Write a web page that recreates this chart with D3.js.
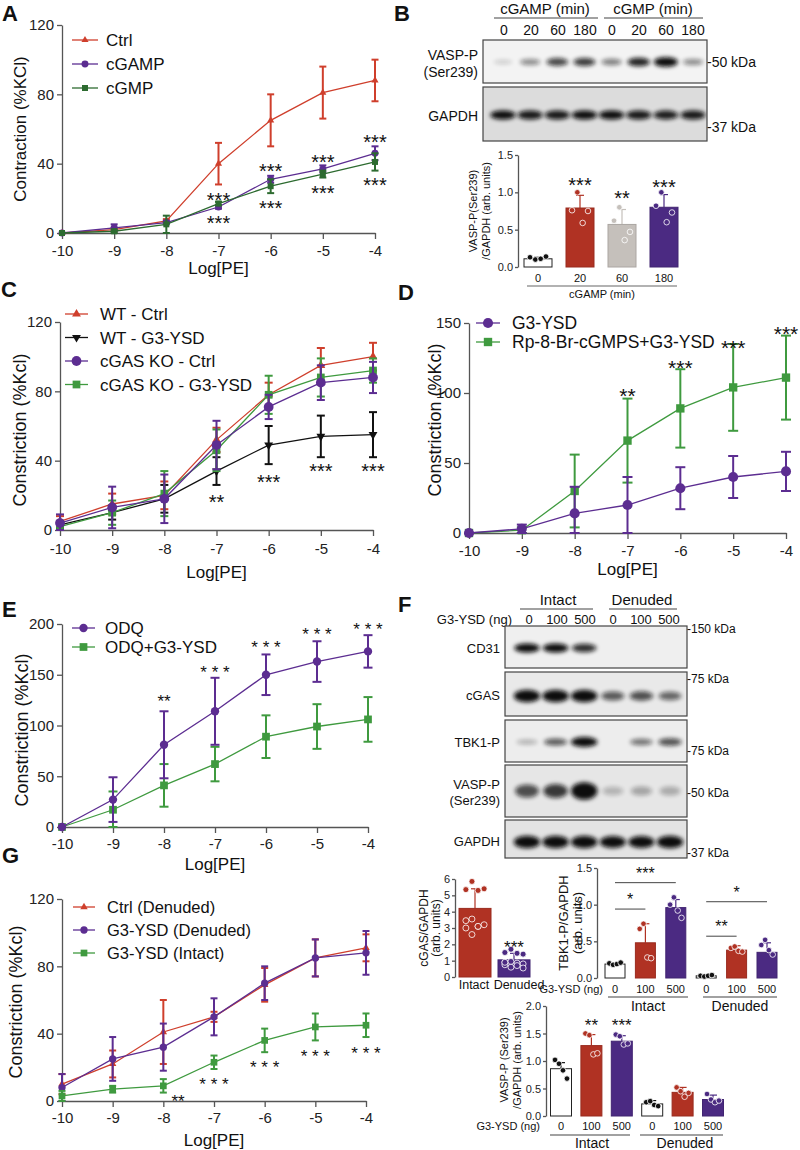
<!DOCTYPE html>
<html><head><meta charset="utf-8">
<script src="https://cdn.jsdelivr.net/npm/d3@7"></script>
<style>body{margin:0;background:#fff} svg{display:block} text{font-family:Arial,"Liberation Sans",Helvetica,sans-serif}</style>
</head><body><svg id="c" width="800" height="1150"></svg>
<script>
// ---------------- DATA ----------------
const logPE = [-10,-9,-8,-7,-6,-5,-4];
// Panel A
const aCtrl = [0,2,7,40,65,81,88];
const aCtrlErr = [0,1,1,12,15,15,12];
const aCGAMP = [0,3,6,15,31,37,46];
const aCGAMPErr = [0,2,1,1,2,2,4];
const aCGMP = [0,1,5,17,27,34,41];
const aCGMPErr = [0,1,5,1,4,2,5];
const aStars = [{x:-7,y:21.9,t:"***"},{x:-7,y:8.7,t:"***"},{x:-6,y:38.7,t:"***"},{x:-6,y:17.3,t:"***"},{x:-5,y:43.8,t:"***"},{x:-5,y:26,t:"***"},{x:-4,y:55.4,t:"***"},{x:-4,y:30.6,t:"***"}];
// Panel B
const bLaneLabels = ["0","20","60","180","0","20","60","180"];
const bVaspBands = [0.02,0.3,0.6,0.65,0.35,0.75,0.95,0.3];
const bGapdhBands = [0.85,0.8,0.8,0.85,0.85,0.8,0.78,0.8];
const bBarCats = ["0","20","60","180"];
const bBarVals = [0.11,0.79,0.57,0.80];
const bBarSD = [0.02,0.17,0.20,0.17];
const bBarDots = [[0.13,0.10,0.11,0.14],[0.76,1.0,0.59,0.75],[0.62,0.80,0.36,0.47],[0.82,1.0,0.60,0.73]];
const bBarStars = ["***","**","***"];
const bBarStarY = [1.165,0.99,1.14];
// Panel C
const cWTCtrl = [5,15,20,52,78,95,100];
const cWTCtrlErr = [3,6,8,7,7,10,8];
const cWTG3 = [3,10,18,34,49,54,55];
const cWTG3Err = [2,4,8,8,11,12,13];
const cKOCtrl = [4,13,18,49,71,85,88];
const cKOCtrlErr = [5,12,14,14,7,10,9];
const cKOG3 = [2,10,21,46,78,88,92];
const cKOG3Err = [2,7,13,12,11,11,7];
const cStars = [{x:-7,y:19,t:"**"},{x:-6,y:30.6,t:"***"},{x:-5,y:37,t:"***"},{x:-4,y:37,t:"***"}];
// Panel D
const dG3 = [0,3,14,20,32,40,44];
const dG3Err = [0,3,19,20,15,15,14];
const dRp = [0,2,30,66,89,104,111];
const dRpErr = [0,2,26,30,28,31,30];
const dStars = [{x:-7,y:102,t:"**"},{x:-6,y:122,t:"***"},{x:-5,y:136,t:"***"},{x:-4,y:146,t:"***"}];
// Panel E
const eODQ = [0,27,81,114,150,163,173];
const eODQErr = [0,22,33,33,20,20,16];
const eODQG3 = [0,17,41,62,89,99,106];
const eODQG3Err = [0,18,21,17,21,22,22];
const eStars = [{x:-8,y:128,t:"**"},{x:-7,y:157,t:"* * *"},{x:-6,y:181,t:"* * *"},{x:-5,y:194,t:"* * *"},{x:-4,y:199,t:"* * *"}];
// Panel F
const fLaneLabels = ["0","100","500","0","100","500"];
const fCD31 = [0.85,0.85,0.7,0,0,0];
const fCGAS = [1,1,1,0.5,0.55,0.45];
const fTBK1 = [0.12,0.5,1,0,0.4,0.55];
const fVASP = [0.55,0.65,1,0.08,0.15,0.12];
const fGAPDH = [1,1,1,0.95,0.95,1];
const cgasCats = ["Intact","Denuded"];
const cgasVals = [4.2,1.05];
const cgasSD = [1.2,0.4];
const cgasDots = [[5.35,5.85,5.3,5.4,3.45,3.55,3.1,3.2,3.0,2.6,3.1],[1.5,1.7,1.45,1.4,0.9,0.95,0.85,0.8,0.75,0.6,0.7,0.55,0.9]];
const fBarCats = ["0","100","500","0","100","500"];
const tbkVals = [0.19,0.48,0.96,0.03,0.38,0.35];
const tbkSD = [0.01,0.26,0.11,0.005,0.06,0.13];
const tbkDots = [[0.2,0.18,0.19,0.21],[0.67,0.74,0.28,0.27],[1.0,1.1,0.92,0.82],[0.03,0.02,0.03,0.04],[0.41,0.43,0.37,0.36],[0.45,0.52,0.38,0.32]];
const tbkBrackets = [{a:0,b:2,y:1.30,t:"***"},{a:0,b:1,y:0.94,t:"*"},{a:3,b:5,y:1.04,t:"*"},{a:3,b:4,y:0.57,t:"**"}];
const vaspVals = [0.86,1.28,1.36,0.22,0.43,0.30];
const vaspSD = [0.11,0.2,0.1,0.06,0.09,0.08];
const vaspDots = [[1.02,0.95,0.83,0.68],[1.5,1.47,1.12,1.14],[1.48,1.45,1.3,1.32],[0.25,0.27,0.2,0.18],[0.52,0.45,0.35,0.42],[0.4,0.3,0.25,0.28]];
const vaspStars = ["","**","***","","",""];
// Panel G
const gCtrlDen = [10,22,41,50,69,85,91];
const gCtrlDenErr = [6,8,19,3,10,11,8];
const gG3Den = [8,25,32,50,70,85,88];
const gG3DenErr = [8,13,14,11,10,11,13];
const gG3Int = [3,7,9,23,36,44,45];
const gG3IntErr = [3,2,4,4,7,8,7];
const gStars = [{x:-7.71,y:2.4,t:"**"},{x:-7,y:12.5,t:"* * *"},{x:-6,y:22.6,t:"* * *"},{x:-5,y:29,t:"* * *"},{x:-4,y:31,t:"* * *"}];

// ---------------- STYLE ----------------
const RED="#cf3f2c", PUR="#5c2d91", GRN="#3f9a3f", GRN2="#2d6b30", BLK="#111";
const BRED="#b03223", BPUR="#4b2a82", BGRY="#c5c0bb", BWHT="#ffffff";
const svg = d3.select("#c");
const defs = svg.append("defs");
defs.append("filter").attr("id","blur").attr("x","-50%").attr("y","-150%").attr("width","200%").attr("height","400%")
  .append("feGaussianBlur").attr("stdDeviation",2.2);

function txt(x,y,s,fs,anchor,weight){
  return svg.append("text").attr("x",x).attr("y",y).text(s).attr("font-size",fs)
    .attr("text-anchor",anchor||"start").attr("font-weight",weight||"normal").attr("fill","#111");
}
function vtxt(x,y,s,fs){
  return svg.append("text").attr("transform",`translate(${x},${y}) rotate(-90)`).attr("text-anchor","middle")
    .attr("font-size",fs).attr("fill","#111").text(s);
}
function hline(x1,x2,y,c){ svg.append("line").attr("x1",x1).attr("x2",x2).attr("y1",y).attr("y2",y).attr("stroke",c||"#444").attr("stroke-width",1.1); }
function styleAxis(sel,fs){
  sel.attr("font-family",'Arial,"Liberation Sans",Helvetica,sans-serif').attr("font-size",fs);
  sel.select(".domain").attr("stroke","#555").attr("stroke-width",1.3);
  sel.selectAll(".tick line").attr("stroke","#555").attr("stroke-width",1.3);
  sel.selectAll(".tick text").attr("fill","#222");
}
const SYM = {tri:d3.symbolTriangle, tridown:d3.symbolTriangle, circ:d3.symbolCircle, sq:d3.symbolSquare};
function marker(g,x,y,shape,size,color){
  g.append("path").attr("d",d3.symbol().type(SYM[shape]).size(size)())
   .attr("transform",`translate(${x},${y})${shape==="tridown"?" rotate(180)":""}`).attr("fill",color);
}

// ---------------- LINE CHART ----------------
function lineChart(o){
  const g = svg.append("g");
  const x = d3.scaleLinear().domain([-10,-4]).range([o.x0,o.x1]);
  const y = d3.scaleLinear().domain([0,o.ymax]).range([o.yb,o.yt]);
  g.append("g").attr("transform",`translate(${o.x0},0)`)
    .call(d3.axisLeft(y).tickValues(o.yticks).tickSize(5).tickSizeOuter(0).tickPadding(3).tickFormat(d=>String(d)))
    .call(s=>styleAxis(s,15));
  g.append("g").attr("transform",`translate(0,${o.yb})`)
    .call(d3.axisBottom(x).tickValues(logPE).tickSize(6).tickSizeOuter(0).tickPadding(o.xpad).tickFormat(d=>String(d)))
    .call(s=>styleAxis(s,15));
  g.append("text").attr("x",(o.x0+o.x1)/2).attr("y",o.logY).attr("text-anchor","middle").attr("font-size",17).attr("fill","#111").text("Log[PE]");
  g.append("text").attr("transform",`translate(${o.ylx},${o.ylcy||(o.yb+o.yt)/2}) rotate(-90)`).attr("text-anchor","middle")
    .attr("font-size",o.ylfs).attr("fill","#111").text(o.ylab);
  o.series.forEach(s=>{
    const c = s.color;
    s.vals.forEach((v,i)=>{
      const e = s.err[i]; if(!e) return;
      const xx = x(logPE[i]), lo = y(Math.max(0,v-e)), hi = y(v+e);
      g.append("line").attr("x1",xx).attr("x2",xx).attr("y1",lo).attr("y2",hi).attr("stroke",c).attr("stroke-width",o.ew);
      [lo,hi].forEach(yy=>g.append("line").attr("x1",xx-o.cap/2).attr("x2",xx+o.cap/2).attr("y1",yy).attr("y2",yy).attr("stroke",c).attr("stroke-width",o.ew));
    });
    g.append("path").datum(s.vals).attr("d",d3.line().x((d,i)=>x(logPE[i])).y(d=>y(d)))
      .attr("fill","none").attr("stroke",c).attr("stroke-width",1.3);
    s.vals.forEach((v,i)=>marker(g,x(logPE[i]),y(v),s.shape,s.size,c));
  });
  o.stars.forEach(st=>{
    g.append("text").attr("x",x(st.x)).attr("y",y(st.y)+o.sfs*0.59).attr("text-anchor","middle")
      .attr("font-size",o.sfs).attr("fill","#111").text(st.t);
  });
  const L = o.legend;
  o.series.slice().sort((a,b)=>a.li-b.li).forEach((s,i)=>{
    const yy = L.y + i*L.dy;
    g.append("line").attr("x1",L.x1).attr("x2",L.x2).attr("y1",yy).attr("y2",yy).attr("stroke",s.color).attr("stroke-width",1.3);
    marker(g,(L.x1+L.x2)/2,yy,s.shape,s.size,s.color);
    g.append("text").attr("x",L.tx).attr("y",yy+L.fs*0.36).attr("font-size",L.fs).attr("fill","#111").text(s.name);
  });
}

// ---------------- BAR CHART ----------------
function barChart(o){
  const g = svg.append("g");
  const x = d3.scalePoint().domain(d3.range(o.vals.length)).range([o.c0,o.c1]);
  const y = d3.scaleLinear().domain([0,o.ymax]).range([o.yb,o.yt]);
  g.append("g").attr("transform",`translate(${o.ax},0)`)
    .call(d3.axisLeft(y).tickValues(o.yticks).tickSize(3).tickSizeOuter(0).tickPadding(2).tickFormat(d3.format(o.fmt)))
    .call(s=>styleAxis(s,o.tfs));
  o.vals.forEach((v,i)=>{
    const c = o.colors[i], cx = x(i), bw = o.bw;
    const dc = c===BWHT ? "#111" : c;
    g.append("line").attr("x1",cx).attr("x2",cx).attr("y1",y(v)).attr("y2",y(v+o.sd[i])).attr("stroke",dc).attr("stroke-width",1.2);
    g.append("line").attr("x1",cx-4).attr("x2",cx+4).attr("y1",y(v+o.sd[i])).attr("y2",y(v+o.sd[i])).attr("stroke",dc).attr("stroke-width",1.2);
    g.append("rect").attr("x",cx-bw/2).attr("y",y(v)).attr("width",bw).attr("height",o.yb-y(v))
      .attr("fill",c).attr("stroke",c===BWHT?"#222":d3.color(c).darker(0.4)).attr("stroke-width",1);
    o.dots[i].forEach((d,j)=>{
      const off = ((j%4)-1.5)*bw*0.19;
      g.append("circle").attr("cx",cx+off).attr("cy",y(d)).attr("r",o.r||2.8)
        .attr("fill",dc).attr("stroke","#fff").attr("stroke-width",0.8);
    });
    if(o.stars && o.stars[i]){
      g.append("text").attr("x",cx).attr("y",y(o.starY?o.starY[i]:0)+o.sfs*0.59).attr("text-anchor","middle")
        .attr("font-size",o.sfs).attr("fill","#111").text(o.stars[i]);
    }
  });
  if(o.brackets){
    o.brackets.forEach(b=>{
      g.append("line").attr("x1",x(b.a)).attr("x2",x(b.b)).attr("y1",y(b.y)).attr("y2",y(b.y)).attr("stroke","#444").attr("stroke-width",1);
      g.append("text").attr("x",(x(b.a)+x(b.b))/2).attr("y",y(b.y)-4).attr("text-anchor","middle")
        .attr("font-size",o.sfs).attr("fill","#111").text(b.t);
    });
  }
  return x;
}

// ---------------- BLOT ----------------
let clipN = 0;
function blot(o){
  const id = "clip"+(clipN++);
  defs.append("clipPath").attr("id",id).append("rect").attr("x",o.x).attr("y",o.y).attr("width",o.w).attr("height",o.h);
  svg.append("rect").attr("x",o.x).attr("y",o.y).attr("width",o.w).attr("height",o.h).attr("fill",o.bg);
  const g = svg.append("g").attr("clip-path",`url(#${id})`);
  const lx = d3.scalePoint().domain(d3.range(o.vals.length)).range([o.l0,o.l1]);
  o.vals.forEach((v,i)=>{
    if(v<=0) return;
    g.append("ellipse").attr("cx",lx(i)).attr("cy",o.by).attr("rx",o.rx*(0.85+0.25*v)).attr("ry",o.ry*(0.55+0.7*v))
      .attr("fill","#0b0b0b").attr("opacity",Math.min(1,0.15+v)).attr("filter","url(#blur)");
  });
  svg.append("rect").attr("x",o.x).attr("y",o.y).attr("width",o.w).attr("height",o.h).attr("fill","none").attr("stroke","#444").attr("stroke-width",1.2);
}

// ---------------- PANEL LETTERS ----------------
[["A",2,21],["B",394,21],["C",1,297],["D",398,300],["E",2,617],["F",398,612],["G",2,863]].forEach(l=>txt(l[1],l[2],l[0],22,"start","bold"));

// ---------------- PANEL A ----------------
lineChart({x0:62,x1:375,yb:233,yt:25,ymax:120,yticks:[0,40,80,120],xpad:6,logY:274,
  ylab:"Contraction (%KCl)",ylx:26,ylfs:17,ew:2,cap:7,sfs:20,stars:aStars,
  series:[{name:"Ctrl",vals:aCtrl,err:aCtrlErr,color:RED,shape:"tri",size:22,li:0},
          {name:"cGAMP",vals:aCGAMP,err:aCGAMPErr,color:PUR,shape:"circ",size:38,li:1},
          {name:"cGMP",vals:aCGMP,err:aCGMPErr,color:GRN2,shape:"sq",size:36,li:2}],
  legend:{x1:72,x2:98,tx:106,y:40,dy:24,fs:17}});

// ---------------- PANEL B ----------------
txt(545,14,"cGAMP (min)",15,"middle"); hline(494,598,18);
txt(653,14,"cGMP (min)",15,"middle"); hline(604,703,18);
{
  const lx = d3.scalePoint().domain(d3.range(bLaneLabels.length)).range([504,693]);
  bLaneLabels.forEach((s,i)=>txt(lx(i),35,s,14,"middle"));
}
blot({x:483,y:40,w:224,h:43,bg:"#f3f3f3",l0:503,l1:693,by:62,rx:11,ry:4,vals:bVaspBands});
blot({x:483,y:87,w:224,h:54,bg:"#dcdcdc",l0:503,l1:693,by:115,rx:12,ry:4,vals:bGapdhBands});
txt(478,60,"VASP-P",14,"end"); txt(478,77,"(Ser239)",14,"end"); txt(478,121,"GAPDH",14,"end");
txt(707,67,"-50 kDa",14,"start"); txt(707,132,"-37 kDa",14,"start");
{
  const bx = barChart({ax:518,yb:267,yt:155,ymax:1.5,yticks:[0,0.5,1,1.5],fmt:".1f",tfs:11,c0:538,c1:664,bw:28,
    vals:bBarVals,sd:bBarSD,dots:bBarDots,colors:[BWHT,BRED,BGRY,BPUR],sfs:20,
    stars:["",...bBarStars],starY:[0,...bBarStarY]});
  bBarCats.forEach((s,i)=>txt(bx(i),282,s,11,"middle"));
}
hline(527,677,286,"#666"); txt(602,298,"cGAMP (min)",11,"middle");
vtxt(477,211,"VASP-P(Ser239)",11); vtxt(490,211,"/GAPDH (arb. units)",11);

// ---------------- PANEL C ----------------
lineChart({x0:60,x1:373,yb:530,yt:322,ymax:120,yticks:[0,40,80,120],xpad:7,logY:578,
  ylab:"Constriction (%Kcl)",ylx:26,ylcy:430,ylfs:18,ew:2,cap:8,sfs:20,stars:cStars,
  series:[{name:"WT - Ctrl",vals:cWTCtrl,err:cWTCtrlErr,color:RED,shape:"tri",size:34,li:0},
          {name:"WT - G3-YSD",vals:cWTG3,err:cWTG3Err,color:BLK,shape:"tridown",size:34,li:1},
          {name:"cGAS KO - G3-YSD",vals:cKOG3,err:cKOG3Err,color:GRN,shape:"sq",size:60,li:3},
          {name:"cGAS KO - Ctrl",vals:cKOCtrl,err:cKOCtrlErr,color:PUR,shape:"circ",size:75,li:2}],
  legend:{x1:65,x2:88,tx:100,y:314,dy:23.5,fs:17}});

// ---------------- PANEL D ----------------
lineChart({x0:469,x1:786,yb:533,yt:323,ymax:150,yticks:[0,50,100,150],xpad:6,logY:575,
  ylab:"Constriction (%Kcl)",ylx:441,ylcy:420,ylfs:18,ew:2,cap:10,sfs:21,stars:dStars,
  series:[{name:"Rp-8-Br-cGMPS+G3-YSD",vals:dRp,err:dRpErr,color:GRN,shape:"sq",size:70,li:1},
          {name:"G3-YSD",vals:dG3,err:dG3Err,color:PUR,shape:"circ",size:80,li:0}],
  legend:{x1:476,x2:500,tx:512,y:323,dy:19,fs:17.5}});

// ---------------- PANEL E ----------------
lineChart({x0:62,x1:368,yb:827,yt:624,ymax:200,yticks:[0,50,100,150,200],xpad:5,logY:870,
  ylab:"Constriction (%Kcl)",ylx:28,ylcy:730,ylfs:18,ew:2,cap:9,sfs:17,stars:eStars,
  series:[{name:"ODQ+G3-YSD",vals:eODQG3,err:eODQG3Err,color:GRN,shape:"sq",size:60,li:1},
          {name:"ODQ",vals:eODQ,err:eODQErr,color:PUR,shape:"circ",size:55,li:0}],
  legend:{x1:72,x2:95,tx:105,y:628,dy:19,fs:17}});

// ---------------- PANEL G ----------------
lineChart({x0:62,x1:366,yb:1101,yt:899,ymax:120,yticks:[0,40,80,120],xpad:5,logY:1146,
  ylab:"Constriction (%Kcl)",ylx:22,ylcy:1002,ylfs:18,ew:2,cap:7,sfs:17,stars:gStars,
  series:[{name:"Ctrl (Denuded)",vals:gCtrlDen,err:gCtrlDenErr,color:RED,shape:"tri",size:24,li:0},
          {name:"G3-YSD (Denuded)",vals:gG3Den,err:gG3DenErr,color:PUR,shape:"circ",size:42,li:1},
          {name:"G3-YSD (Intact)",vals:gG3Int,err:gG3IntErr,color:GRN,shape:"sq",size:45,li:2}],
  legend:{x1:73,x2:95,tx:107,y:907,dy:23,fs:16.5}});

// ---------------- PANEL F (blots) ----------------
txt(558,605,"Intact",15,"middle"); hline(520,593,609);
txt(642,605,"Denuded",15,"middle"); hline(609,677,609);
txt(512,624,"G3-YSD (ng)",13,"end");
{
  const lx = d3.scalePoint().domain(d3.range(fLaneLabels.length)).range([529,669]);
  fLaneLabels.forEach((s,i)=>txt(lx(i),624,s,13,"middle"));
}
const fBox = {x:505,w:182,l0:527,l1:670,rx:12};
blot({...fBox,y:626,h:42,bg:"#efefef",by:648,ry:4,vals:fCD31});
blot({...fBox,y:672,h:44,bg:"#e9e9e9",by:696,ry:5,vals:fCGAS});
blot({...fBox,y:720,h:42,bg:"#ededed",by:742,ry:4,vals:fTBK1});
blot({...fBox,y:765,h:52,bg:"#e6e6e6",by:791,ry:7,vals:fVASP});
blot({...fBox,y:820,h:38,bg:"#e3e3e3",by:842,ry:5,vals:fGAPDH});
txt(500,653,"CD31",13,"end"); txt(500,700,"cGAS",13,"end"); txt(500,747,"TBK1-P",13,"end");
txt(500,789,"VASP-P",13,"end"); txt(500,805,"(Ser239)",13,"end"); txt(500,846,"GAPDH",13,"end");
txt(687,633,"-150 kDa",12); txt(687,683,"-75 kDa",12); txt(687,755,"-75 kDa",12); txt(687,797,"-50 kDa",12); txt(687,857,"-37 kDa",12);

// ---------------- PANEL F (bars) ----------------
{
  barChart({ax:455,yb:977,yt:879,ymax:6,yticks:[0,1,2,3,4,5,6],fmt:"d",tfs:11,c0:475,c1:514,bw:32,r:3,
    vals:cgasVals,sd:cgasSD,dots:cgasDots,colors:[BRED,BPUR],sfs:17,stars:["","***"],starY:[0,2.07]});
  txt(474,989,cgasCats[0],12.5,"middle"); txt(519,989,cgasCats[1],12.5,"middle");
  vtxt(428,928,"cGAS/GAPDH",12); vtxt(440,928,"(arb. units)",12);
}
{
  const x = barChart({ax:597,yb:978,yt:868,ymax:1.5,yticks:[0,0.5,1,1.5],fmt:".1f",tfs:11,c0:615,c1:767,bw:20,
    vals:tbkVals,sd:tbkSD,dots:tbkDots,colors:[BWHT,BRED,BPUR,BWHT,BRED,BPUR],sfs:16,brackets:tbkBrackets});
  fBarCats.forEach((s,i)=>txt(x(i),993,s,11,"middle"));
  txt(603,993,"G3-YSD (ng)",11,"end");
  hline(608,688,997); hline(703,777,997);
  txt(648,1011,"Intact",14,"middle"); txt(740,1011,"Denuded",14,"middle");
  vtxt(568,923,"TBK1-P/GAPDH",13); vtxt(582,923,"(arb. units)",13);
}
{
  const x = barChart({ax:546,yb:1116,yt:1006,ymax:2,yticks:[0,0.5,1,1.5,2],fmt:".1f",tfs:11,c0:561,c1:713,bw:21,
    vals:vaspVals,sd:vaspSD,dots:vaspDots,colors:[BWHT,BRED,BPUR,BWHT,BRED,BPUR],sfs:17,stars:vaspStars,starY:[0,1.73,1.73,0,0,0]});
  fBarCats.forEach((s,i)=>txt(x(i),1130,s,11,"middle"));
  txt(540,1130,"G3-YSD (ng)",11,"end");
  hline(550,630,1135); hline(640,723,1135);
  txt(592,1148,"Intact",14,"middle"); txt(685,1148,"Denuded",14,"middle");
  vtxt(508,1060,"VASP-P (Ser239)",11); vtxt(521,1060,"/GAPDH (arb. units)",11);
}
</script></body></html>
